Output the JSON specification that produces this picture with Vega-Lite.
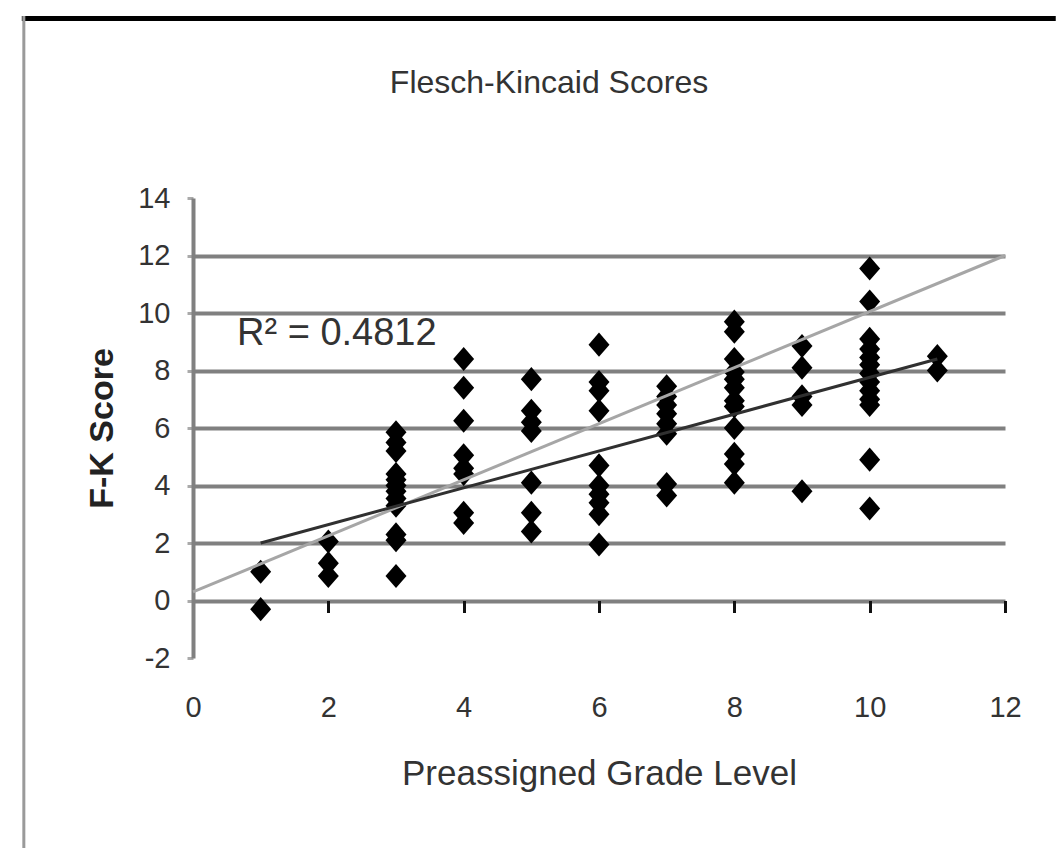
{
  "$schema": "https://vega.github.io/schema/vega-lite/v6.json",
  "width": 812,
  "height": 460,
  "autosize": {"type": "none"},
  "padding": {"left": 193, "top": 198, "right": 51, "bottom": 194},
  "background": "white",
  "config": {"view": {"stroke": null}, "font": "Liberation Sans"},
  "title": {
    "text": "Flesch-Kincaid Scores",
    "fontSize": 32,
    "fontWeight": "normal",
    "color": "#333333",
    "anchor": "middle",
    "frame": "group",
    "baseline": "alphabetic",
    "offset": -110,
    "dx": -50,
    "font": "Liberation Sans"
  },
  "datasets": {
    "points": [
      {"grade": 1, "score": 1.0}, {"grade": 1, "score": -0.3},
      {"grade": 2, "score": 2.05}, {"grade": 2, "score": 1.3}, {"grade": 2, "score": 0.85},
      {"grade": 3, "score": 5.85}, {"grade": 3, "score": 5.5}, {"grade": 3, "score": 5.2}, {"grade": 3, "score": 4.4}, {"grade": 3, "score": 4.2}, {"grade": 3, "score": 4.0}, {"grade": 3, "score": 3.8}, {"grade": 3, "score": 3.55}, {"grade": 3, "score": 3.3}, {"grade": 3, "score": 2.3}, {"grade": 3, "score": 2.1}, {"grade": 3, "score": 0.85},
      {"grade": 4, "score": 8.4}, {"grade": 4, "score": 7.4}, {"grade": 4, "score": 6.25}, {"grade": 4, "score": 5.05}, {"grade": 4, "score": 4.6}, {"grade": 4, "score": 4.4}, {"grade": 4, "score": 3.05}, {"grade": 4, "score": 2.7},
      {"grade": 5, "score": 7.7}, {"grade": 5, "score": 6.6}, {"grade": 5, "score": 6.2}, {"grade": 5, "score": 5.9}, {"grade": 5, "score": 4.1}, {"grade": 5, "score": 3.05}, {"grade": 5, "score": 2.4},
      {"grade": 6, "score": 8.9}, {"grade": 6, "score": 7.6}, {"grade": 6, "score": 7.3}, {"grade": 6, "score": 6.6}, {"grade": 6, "score": 4.7}, {"grade": 6, "score": 4.0}, {"grade": 6, "score": 3.7}, {"grade": 6, "score": 3.4}, {"grade": 6, "score": 3.0}, {"grade": 6, "score": 1.95},
      {"grade": 7, "score": 7.45}, {"grade": 7, "score": 7.1}, {"grade": 7, "score": 6.8}, {"grade": 7, "score": 6.5}, {"grade": 7, "score": 6.15}, {"grade": 7, "score": 5.8}, {"grade": 7, "score": 4.05}, {"grade": 7, "score": 3.65},
      {"grade": 8, "score": 9.7}, {"grade": 8, "score": 9.35}, {"grade": 8, "score": 8.4}, {"grade": 8, "score": 7.95}, {"grade": 8, "score": 7.7}, {"grade": 8, "score": 7.4}, {"grade": 8, "score": 6.95}, {"grade": 8, "score": 6.75}, {"grade": 8, "score": 6.0}, {"grade": 8, "score": 5.1}, {"grade": 8, "score": 4.75}, {"grade": 8, "score": 4.1},
      {"grade": 9, "score": 8.85}, {"grade": 9, "score": 8.1}, {"grade": 9, "score": 7.1}, {"grade": 9, "score": 6.8}, {"grade": 9, "score": 3.8},
      {"grade": 10, "score": 11.55}, {"grade": 10, "score": 10.4}, {"grade": 10, "score": 9.1}, {"grade": 10, "score": 8.75}, {"grade": 10, "score": 8.45}, {"grade": 10, "score": 8.2}, {"grade": 10, "score": 7.9}, {"grade": 10, "score": 7.6}, {"grade": 10, "score": 7.3}, {"grade": 10, "score": 7.0}, {"grade": 10, "score": 6.8}, {"grade": 10, "score": 4.9}, {"grade": 10, "score": 3.2},
      {"grade": 11, "score": 8.5}, {"grade": 11, "score": 8.0}
    ],
    "lines": [
      {"series": "ref", "grade": 0, "score": 0.3},
      {"series": "ref", "grade": 12, "score": 12.0},
      {"series": "fit", "grade": 1, "score": 2.0},
      {"series": "fit", "grade": 11, "score": 8.4}
    ]
  },
  "layer": [
    {
      "data": {"name": "points"},
      "mark": {"type": "point", "shape": "M-1,0L0,-1.15L1,0L0,1.15Z", "filled": true, "color": "#000000", "size": 440, "opacity": 1},
      "encoding": {
        "x": {
          "field": "grade", "type": "quantitative",
          "scale": {"domain": [0, 12], "nice": false, "zero": false},
          "axis": {
            "orient": "bottom", "domain": false, "grid": false, "ticks": false, "tickSize": 0,
            "values": [0, 2, 4, 6, 8, 10, 12], "labelFlush": false, "labelOverlap": false,
            "labelFontSize": 29, "labelColor": "#333333", "labelPadding": 35, "labelFont": "Liberation Sans",
            "title": "Preassigned Grade Level", "titleFontSize": 35, "titleFontWeight": "normal",
            "titleColor": "#333333", "titlePadding": 34, "titleFont": "Liberation Sans"
          }
        },
        "y": {
          "field": "score", "type": "quantitative",
          "scale": {"domain": [-2, 14], "nice": false, "zero": false},
          "axis": {
            "orient": "left", "values": [-2, 0, 2, 4, 6, 8, 10, 12, 14],
            "labelExpr": "datum.value < 0 ? '-' + abs(datum.value) : '' + datum.value",
            "domain": true, "domainColor": "#808080", "domainWidth": 4,
            "ticks": true, "tickColor": "#aaaaaa", "tickSize": 6, "tickWidth": 3,
            "grid": true, "gridColor": "#808080", "gridWidth": 4,
            "gridOpacity": {"condition": {"test": "datum.value < 0 || datum.value > 12", "value": 0}, "value": 1},
            "labelFontSize": 29, "labelColor": "#333333", "labelPadding": 17, "labelFont": "Liberation Sans",
            "labelFlush": false, "labelOverlap": false,
            "title": "F-K Score", "titleFontSize": 34, "titleFontWeight": "bold",
            "titleColor": "#222222", "titlePadding": 18, "titleFont": "Liberation Sans"
          }
        }
      }
    },
    {
      "data": {"values": [{}]},
      "mark": {"type": "rule", "color": "#000000", "strokeWidth": 5, "clip": false},
      "encoding": {
        "y": {"datum": 20.24, "type": "quantitative"},
        "x": {"datum": -2.53, "type": "quantitative", "axis": null},
        "x2": {"datum": 12.75}
      }
    },
    {
      "data": {"values": [{}]},
      "mark": {"type": "rule", "color": "#9a9a9a", "strokeWidth": 3, "clip": false},
      "encoding": {
        "x": {"datum": -2.5, "type": "quantitative", "axis": null},
        "y": {"datum": 20.33, "type": "quantitative"},
        "y2": {"datum": -8.61}
      }
    },
    {
      "data": {"name": "lines"},
      "transform": [{"filter": "datum.series === 'ref'"}],
      "mark": {"type": "line", "color": "#a6a6a6", "strokeWidth": 3},
      "encoding": {
        "x": {
          "field": "grade", "type": "quantitative",
          "axis": {
            "orient": "bottom", "offset": -57.5, "domain": false, "grid": false,
            "labels": false, "ticks": true, "tickColor": "#111111", "tickSize": 12, "tickWidth": 3,
            "values": [0, 2, 4, 6, 8, 10, 12], "title": null
          }
        },
        "y": {"field": "score", "type": "quantitative"}
      }
    },
    {
      "data": {"name": "lines"},
      "transform": [{"filter": "datum.series === 'fit'"}],
      "mark": {"type": "line", "color": "#303030", "strokeWidth": 3},
      "encoding": {
        "x": {"field": "grade", "type": "quantitative", "axis": null},
        "y": {"field": "score", "type": "quantitative"}
      }
    },
    {
      "data": {"values": [{"label": "R² = 0.4812"}]},
      "mark": {"type": "text", "align": "left", "baseline": "alphabetic", "fontSize": 38, "color": "#333333", "font": "Liberation Sans"},
      "encoding": {
        "x": {"datum": 0.65, "type": "quantitative", "axis": null},
        "y": {"datum": 8.9, "type": "quantitative"},
        "text": {"field": "label"}
      }
    }
  ],
  "resolve": {"axis": {"x": "independent"}}
}
